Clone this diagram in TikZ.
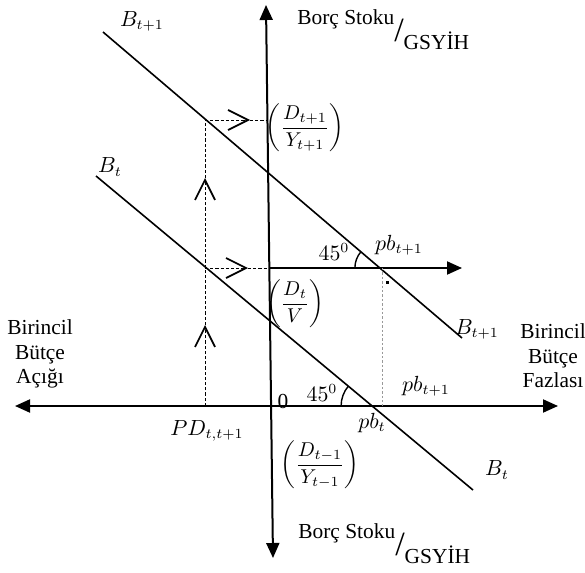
\documentclass[tikz,border=0pt]{standalone}
\usepackage{amsmath}
\usepackage{fontspec}
\setmainfont{Liberation Serif}
\usetikzlibrary{arrows.meta}

\newcommand{\stockratio}{Borç Stoku\raisebox{-8.5pt}{\fontsize{17}{17}\selectfont /}\raisebox{-12.5pt}{GSYİH}}

\begin{document}
\begin{tikzpicture}[x=0.5pt, y=-0.5pt,
  every node/.style={font=\fontsize{10.7}{12.2}\selectfont, inner sep=0pt},
  axis/.style={line width=1pt, {Triangle[length=7.5pt,width=6.5pt]}-{Triangle[length=7.5pt,width=6.5pt]}},
  half/.style={line width=1pt, -{Triangle[length=7.5pt,width=6.5pt]}},
  budget/.style={line width=0.8pt},
  guide/.style={line width=0.5pt, dash pattern=on 1.6pt off 1pt},
  faint/.style={line width=0.5pt, draw=black!40, dash pattern=on 1.2pt off 1pt},
  chev/.style={guide, -{Straight Barb[length=10pt,width=10pt,line width=0.85pt]}},
  ang/.style={line width=0.7pt},
  frac/.style={font=\fontsize{9.6}{11}\selectfont},
  lab/.style={align=center}
]
\useasboundingbox (0,0) rectangle (585,573);

%% axes
\coordinate (yTop) at (266,5);
\coordinate (yBot) at (273,558);
\coordinate (xL)   at (15,406);
\coordinate (xR)   at (558,406);
\coordinate (ax1)  at (269.3,268);
\coordinate (ax2)  at (267.5,120);
\coordinate (hEnd) at (462,268);
\draw[axis] (yBot) -- (yTop);
\draw[axis] (xL) -- (xR);
\draw[half] (ax1) -- (hEnd);

%% budget lines
\coordinate (b1s) at (103,32);
\coordinate (b1e) at (462,338);
\coordinate (b0s) at (96,176);
\coordinate (b0e) at (473,490);
\draw[budget] (b1s) -- (b1e);
\draw[budget] (b0s) -- (b0e);

%% guide lines
\coordinate (g0) at (205,406);
\coordinate (g1) at (205,325);
\coordinate (g2) at (205,268);
\coordinate (g3) at (205,178);
\coordinate (g4) at (205,120);
\coordinate (r1) at (248,268);
\coordinate (r2) at (250,120);
\draw[chev] (g0) -- (g1);
\draw[chev] (g1) -- (g3);
\draw[guide] (g3) -- (g4);
\draw[chev] (g2) -- (r1);
\draw[guide] (r1) -- (ax1);
\draw[chev] (g4) -- (r2);
\draw[guide] (r2) -- (ax2);
\coordinate (f1) at (382,268);
\coordinate (f0) at (382,406);
\draw[faint] (f1) -- (f0);
\fill (386,281) rectangle (389,283.5);

%% 45 degree angles
\coordinate (p1) at (379.9,268);
\coordinate (p0) at (372.1,406);
\draw[ang] (p1) ++(-25,0) arc[start angle=180, end angle=220.45, radius=25];
\draw[ang] (p0) ++(-31,0) arc[start angle=180, end angle=219.8, radius=31];

%% labels
\node (lB1a) at (142,21)  {$B_{t+1}$};
\node (lB0a) at (110,167) {$B_t$};
\node (lB1b) at (477,329) {$B_{t+1}$};
\node (lB0b) at (497,470) {$B_t$};
\node[anchor=base west] (lTop) at (297,25)  {\stockratio};
\node[anchor=base west] (lBot) at (298,538) {\stockratio};
\node[frac] (lD1) at (305,128) {$\left(\dfrac{D_{t+1}}{Y_{t+1}}\right)$};
\node[frac] (lD0) at (295,304) {$\left(\dfrac{D_t}{V}\right)$};
\node[frac] (lDm) at (320,465) {$\left(\dfrac{D_{t-1}}{Y_{t-1}}\right)$};
\node (la1) at (334,252) {$45^{0}$};
\node (la0) at (322,393) {$45^{0}$};
\node (lpb1) at (399,245) {$pb_{t+1}$};
\node (lpb2) at (426,386) {$pb_{t+1}$};
\node (lpb0) at (372,423) {$pb_t$};
\node (lPD) at (207,431) {$PD_{t,t+1}$};
\node (lO) at (283,401) {0};
\node[lab] (lDef) at (40,354)  {Birincil\\Bütçe\\Açığı};
\node[lab] (lSur) at (553,356) {Birincil\\Bütçe\\Fazlası};
\end{tikzpicture}
\end{document}
